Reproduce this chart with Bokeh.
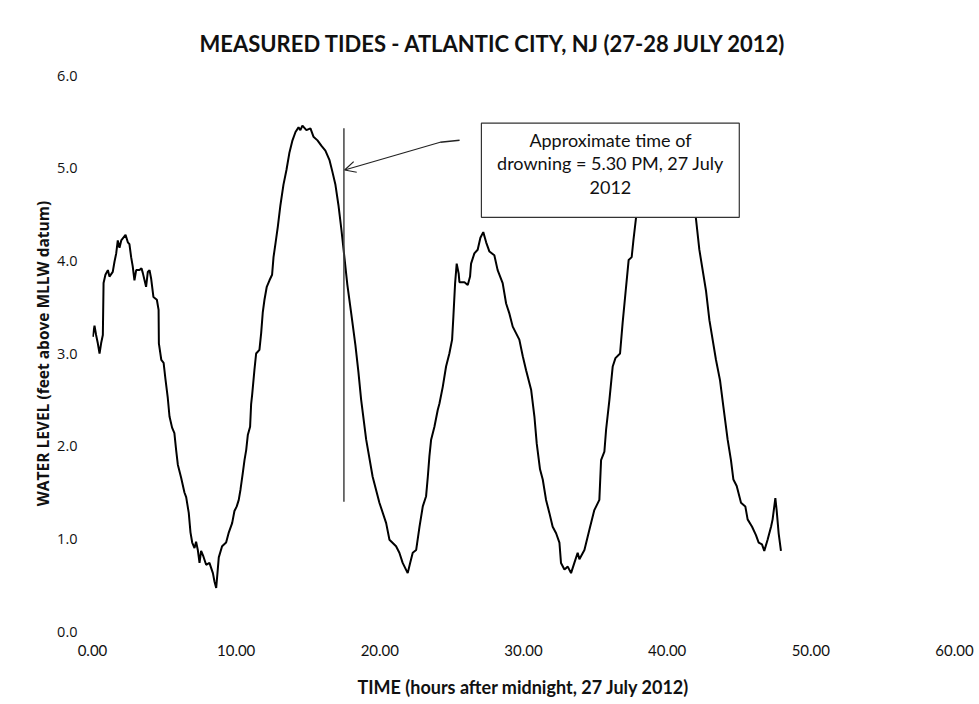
from bokeh.plotting import figure
from bokeh.models import (Range1d, FixedTicker, NumeralTickFormatter, Arrow, OpenHead,
                          BoxAnnotation, Label)
from bokeh.embed import file_html
from bokeh.resources import INLINE

# ---- data ----
hours = [0.02, 0.14, 0.25, 0.37, 0.49, 0.6, 0.72, 0.77, 0.9, 1.07, 1.18, 1.41, 1.53, 1.65, 1.76, 1.88,
         2.0, 2.3, 2.46, 2.57, 2.69, 2.8, 2.92, 3.04, 3.27, 3.41, 3.5, 3.73, 3.85, 3.97, 4.08, 4.24,
         4.48, 4.6, 4.62, 4.79, 4.95, 5.08, 5.24, 5.36, 5.54, 5.7, 5.82, 5.94, 6.17, 6.4, 6.52, 6.7,
         6.82, 6.94, 7.1, 7.21, 7.33, 7.45, 7.56, 7.72, 7.91, 8.14, 8.38, 8.49, 8.61, 8.72, 8.79, 9.02,
         9.3, 9.49, 9.72, 9.88, 10.04, 10.18, 10.3, 10.46, 10.58, 10.7, 10.81, 10.97, 11.04, 11.11,
         11.27, 11.39, 11.62, 11.74, 11.85, 11.97, 12.13, 12.32, 12.5, 12.6, 12.74, 12.9, 13.08, 13.29,
         13.5, 13.71, 13.92, 14.13, 14.34, 14.47, 14.61, 14.89, 15.17, 15.38, 15.66, 15.94, 16.21,
         16.49, 16.7, 16.91, 17.12, 17.33, 17.54, 17.74, 18.02, 18.3, 18.51, 18.7, 19.05, 19.5, 19.97,
         20.44, 20.67, 21.13, 21.36, 21.59, 21.94, 22.11, 22.29, 22.53, 22.76, 22.99, 23.22, 23.34,
         23.45, 23.57, 23.8, 24.03, 24.15, 24.38, 24.61, 24.84, 25.03, 25.12, 25.24, 25.35, 25.49,
         25.54, 25.89, 26.12, 26.28, 26.35, 26.58, 26.81, 27.0, 27.2, 27.4, 27.63, 27.97, 28.2, 28.55,
         28.79, 29.02, 29.25, 29.48, 29.71, 29.95, 30.18, 30.53, 30.76, 30.92, 31.15, 31.34, 31.57,
         31.8, 32.03, 32.27, 32.5, 32.61, 32.85, 33.08, 33.31, 33.54, 33.77, 33.89, 34.24, 34.59,
         34.93, 35.28, 35.4, 35.63, 35.75, 35.98, 36.21, 36.4, 36.72, 36.9, 37.14, 37.32, 37.53,
         37.65, 37.83, 38.3, 38.8, 39.4, 40.0, 40.6, 41.2, 41.7, 42.0, 42.24, 42.7, 42.94, 43.4,
         43.68, 43.91, 44.21, 44.44, 44.61, 44.84, 45.14, 45.44, 45.6, 45.91, 46.18, 46.37, 46.6,
         46.76, 46.99, 47.23, 47.34, 47.53, 47.62, 47.76, 47.92]
water_level = [3.18, 3.30, 3.2, 3.11, 3.0, 3.11, 3.2, 3.76, 3.85, 3.9, 3.83, 3.88, 3.99, 4.08, 4.22, 4.14,
               4.22, 4.28, 4.2, 4.18, 4.04, 3.94, 3.79, 3.9, 3.9, 3.92, 3.87, 3.72, 3.88, 3.9, 3.81, 3.61,
               3.58, 3.47, 3.11, 2.93, 2.9, 2.72, 2.52, 2.32, 2.2, 2.14, 1.96, 1.8, 1.66, 1.5, 1.45, 1.28,
               1.07, 0.96, 0.9, 0.97, 0.88, 0.74, 0.87, 0.81, 0.72, 0.74, 0.63, 0.54, 0.47, 0.67, 0.8, 0.92,
               0.96, 1.07, 1.17, 1.3, 1.35, 1.42, 1.53, 1.71, 1.85, 1.96, 2.12, 2.21, 2.45, 2.55,
               2.82, 3.0, 3.04, 3.22, 3.44, 3.58, 3.72, 3.79, 3.85, 4.04, 4.19, 4.37, 4.6, 4.82,
               4.98, 5.17, 5.3, 5.39, 5.44, 5.41, 5.46, 5.41, 5.43, 5.34, 5.3, 5.24, 5.19,
               5.09, 4.96, 4.82, 4.6, 4.33, 4.03, 3.74, 3.42, 3.09, 2.8, 2.5, 2.07, 1.67, 1.39,
               1.17, 0.99, 0.92, 0.85, 0.74, 0.63, 0.74, 0.85, 0.88, 1.13, 1.35, 1.46, 1.67,
               1.89, 2.07, 2.21, 2.39, 2.46, 2.64, 2.86, 3.0, 3.15, 3.4, 3.76, 3.97, 3.86,
               3.77, 3.77, 3.74, 3.83, 3.97, 4.08, 4.12, 4.25, 4.31, 4.2, 4.1, 4.06, 3.9, 3.76,
               3.54, 3.43, 3.29, 3.22, 3.15, 2.97, 2.82, 2.61, 2.32, 2.03, 1.75, 1.64, 1.42,
               1.28, 1.13, 1.06, 0.96, 0.74, 0.67, 0.70, 0.63, 0.74, 0.85, 0.78, 0.88, 1.1,
               1.31, 1.42, 1.85, 1.94, 2.18, 2.5, 2.86, 2.95, 3.0, 3.33, 3.72, 4.01, 4.04,
               4.22, 4.46, 4.85, 5.1, 5.25, 5.3, 5.22, 4.95, 4.65, 4.46, 4.12, 3.68, 3.36, 2.93,
               2.71, 2.43, 2.07, 1.85, 1.64, 1.57, 1.39, 1.35, 1.21, 1.13, 1.04, 0.96, 0.94,
               0.87, 0.99, 1.13, 1.21, 1.44, 1.31, 1.06, 0.87]

x_ticks = [0, 10, 20, 30, 40, 50, 60]
y_ticks = [0, 1, 2, 3, 4, 5, 6]

drowning_time = 17.5          # 5.30 PM
marker_bottom, marker_top = 1.40, 5.43
note_lines = ["Approximate time of", "drowning = 5.30 PM, 27 July", "2012"]
title_text = "MEASURED TIDES - ATLANTIC CITY, NJ (27-28 JULY 2012)"

HEAD_FONT = "Lato"
BODY_FONT = "Open Sans"

p = figure(width=975, height=700, output_backend="svg", toolbar_location=None,
           x_range=Range1d(0, 60), y_range=Range1d(0, 6),
           min_border_left=92, min_border_right=21, min_border_top=5, min_border_bottom=69,
           title=title_text)

# chart title, centred on the whole chart area (as in the original)
p.title.align = "left"
p.title.offset = 107
p.title.text_font = HEAD_FONT
p.title.text_font_size = "22px"
p.title.text_font_style = "bold"
p.title.text_color = "#111111"
try:
    p.title.padding = (0, 0, 9, 0)   # left, right, top, bottom
    p.title.standoff = 37
except Exception:
    p.title.standoff = 33
    p.min_border_top = 74

p.outline_line_color = None
p.xgrid.grid_line_color = None
p.ygrid.grid_line_color = None

for ax in (p.xaxis[0], p.yaxis[0]):
    ax.axis_line_color = None
    ax.major_tick_line_color = None
    ax.minor_tick_line_color = None
    ax.major_label_text_color = "#111111"
    ax.axis_label_text_color = "#111111"
    ax.axis_label_text_font_style = "bold"

p.xaxis.ticker = FixedTicker(ticks=x_ticks)
p.xaxis.formatter = NumeralTickFormatter(format="0.00")
p.xaxis.major_label_text_font = HEAD_FONT
p.xaxis.major_label_text_font_size = "15px"
p.xaxis.major_label_standoff = 7
p.xaxis.axis_label = "TIME (hours after midnight, 27 July 2012)"
p.xaxis.axis_label_text_font = HEAD_FONT
p.xaxis.axis_label_text_font_size = "18px"
p.xaxis.axis_label_standoff = 17

p.yaxis.ticker = FixedTicker(ticks=y_ticks)
p.yaxis.formatter = NumeralTickFormatter(format="0.0")
p.yaxis.major_label_text_font = BODY_FONT
p.yaxis.major_label_text_font_size = "14.5px"
p.yaxis.major_label_standoff = 9
p.yaxis.axis_label = "WATER LEVEL (feet above MLLW datum)"
p.yaxis.axis_label_text_font = BODY_FONT
p.yaxis.axis_label_text_font_size = "15.5px"
p.yaxis.axis_label_standoff = 0

p.line(hours, water_level, line_color="black", line_width=2)

p.segment(x0=[drowning_time], y0=[marker_bottom], x1=[drowning_time], y1=[marker_top],
          line_color="#444444", line_width=1.5)

# arrow from text box to the time marker
p.segment(x0=[25.55], y0=[5.30], x1=[24.2], y1=[5.28], line_color="#222222", line_width=1.5)
p.add_layout(Arrow(end=OpenHead(size=11, line_width=1.2, line_color="#222222"),
                   x_start=24.2, y_start=5.28, x_end=drowning_time + 0.05, y_end=4.98,
                   line_color="#222222", line_width=1.2))

p.add_layout(BoxAnnotation(left=27.07, right=45.02, bottom=4.47, top=5.485,
                           fill_color="white", fill_alpha=1.0,
                           line_color="#333333", line_width=1.2, line_alpha=1.0))
for txt, yy in zip(note_lines, [5.30, 5.054, 4.795]):
    p.add_layout(Label(x=36.05, y=yy, text=txt, text_align="center", text_baseline="middle",
                       text_font=HEAD_FONT, text_font_size="18px", text_color="#111111"))

open("out.html", "w").write(file_html(p, INLINE))
